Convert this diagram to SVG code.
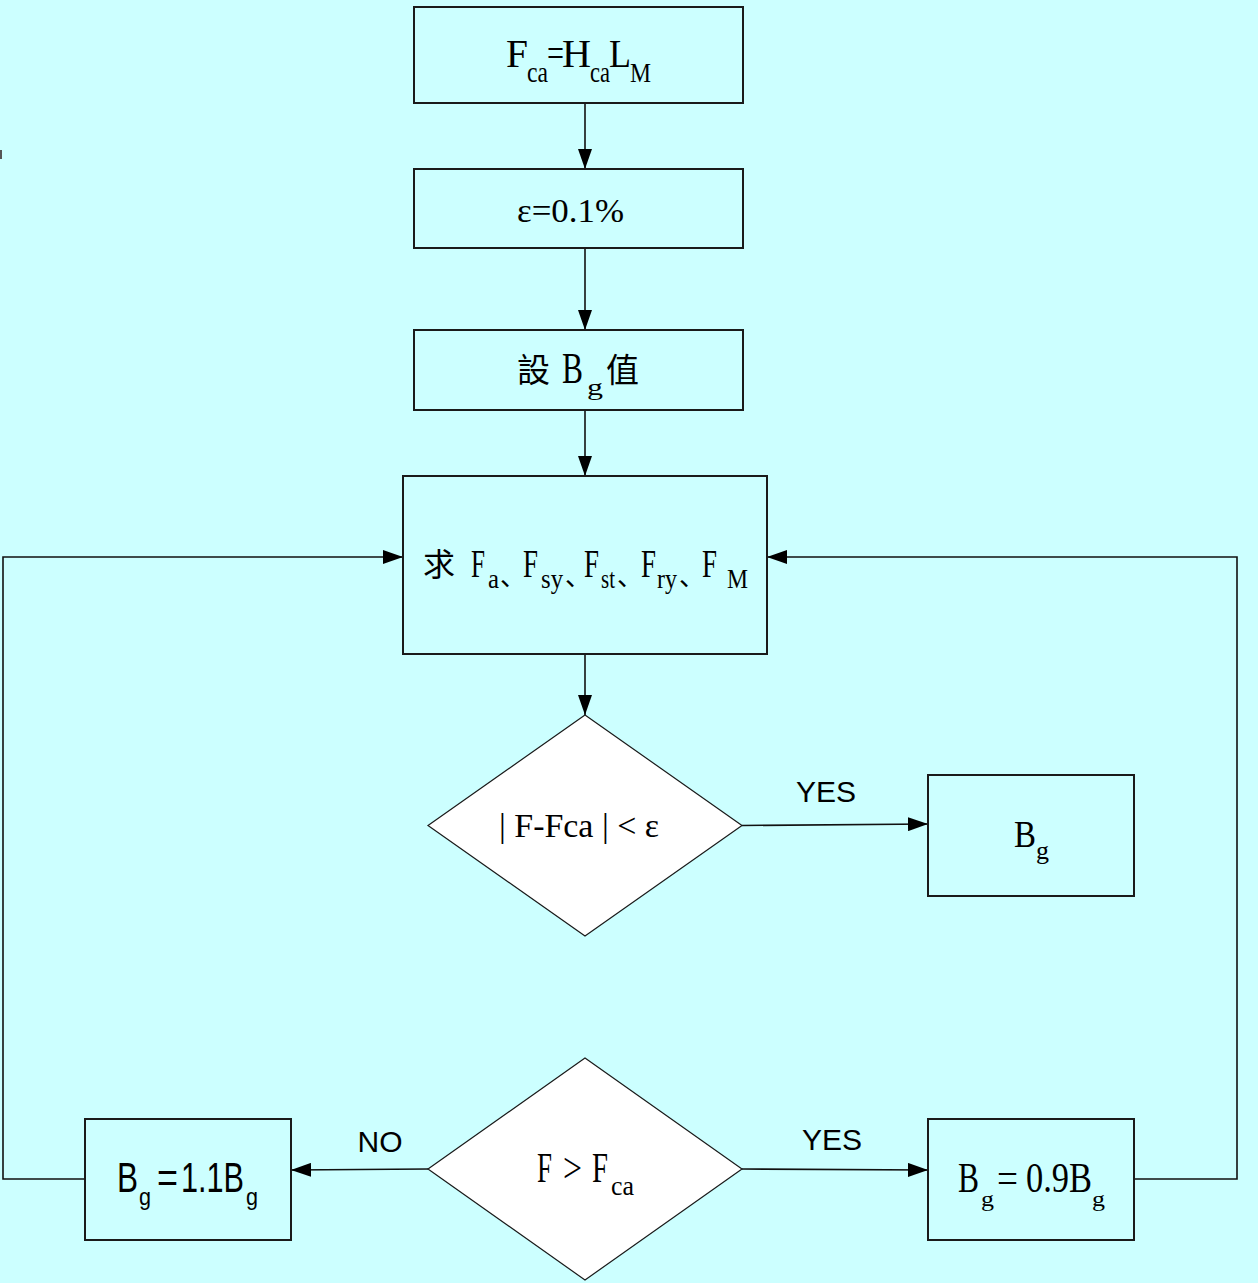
<svg xmlns="http://www.w3.org/2000/svg" width="1258" height="1283" viewBox="0 0 1258 1283">
  <defs>
    <style>
      .box { fill: #CCFFFF; stroke: #1a1a1a; stroke-width: 2; }
      .dia { fill: #FFFFFF; stroke: #1a1a1a; stroke-width: 1.2; }
      .wire { fill: none; stroke: #111; stroke-width: 1.6; }
      .tm { font-family: "Liberation Serif", "Times New Roman", "Noto Sans CJK TC", serif; fill: #000; }
      .ar { font-family: "Liberation Sans", Arial, sans-serif; fill: #000; }
      .cjk { font-family: "Noto Sans CJK TC", "Noto Sans CJK SC", sans-serif; fill: #000; }
      .pun { font-family: "Noto Sans CJK SC", "Noto Sans CJK JP", sans-serif; fill: #000; font-size: 26px; }
    </style>
    <marker id="head" markerUnits="userSpaceOnUse" markerWidth="20" markerHeight="14" refX="20" refY="7" orient="auto">
      <path d="M0,0 L20,7 L0,14 z" fill="#000"/>
    </marker>
  </defs>

  <rect x="0" y="0" width="1258" height="1283" fill="#CCFFFF"/>
  <rect x="0" y="150" width="2" height="9" fill="#555"/>

  <!-- connectors -->
  <g id="connectors">
    <line class="wire" x1="585" y1="103" x2="585" y2="169" marker-end="url(#head)"/>
    <line class="wire" x1="585" y1="248" x2="585" y2="330" marker-end="url(#head)"/>
    <line class="wire" x1="585" y1="410" x2="585" y2="476" marker-end="url(#head)"/>
    <line class="wire" x1="585" y1="654" x2="585" y2="715" marker-end="url(#head)"/>
    <line class="wire" x1="742" y1="825.5" x2="928" y2="824" marker-end="url(#head)"/>
    <line class="wire" x1="428" y1="1169" x2="291" y2="1170" marker-end="url(#head)"/>
    <line class="wire" x1="742" y1="1169" x2="928" y2="1170" marker-end="url(#head)"/>
    <polyline class="wire" points="1134,1179 1237,1179 1237,557 767,557" marker-end="url(#head)"/>
    <polyline class="wire" points="85,1179 3,1179 3,557 403,557" marker-end="url(#head)"/>
    <text class="ar" x="826" y="802" font-size="30" text-anchor="middle">YES</text>
    <text class="ar" x="832" y="1150" font-size="30" text-anchor="middle">YES</text>
    <text class="ar" x="380" y="1152" font-size="30" text-anchor="middle">NO</text>
  </g>

  <!-- F_ca = H_ca L_M -->
  <g id="n-fca">
    <rect class="box" x="414" y="7" width="329" height="96"/>
    <text class="tm" x="506" y="67" font-size="40" textLength="22" lengthAdjust="spacingAndGlyphs">F</text>
    <text class="tm" x="527" y="82" font-size="29" textLength="21" lengthAdjust="spacingAndGlyphs">ca</text>
    <text class="tm" x="547" y="67" font-size="40" textLength="17" lengthAdjust="spacingAndGlyphs">=</text>
    <text class="tm" x="562" y="67" font-size="40" textLength="29" lengthAdjust="spacingAndGlyphs">H</text>
    <text class="tm" x="590" y="82" font-size="29" textLength="20" lengthAdjust="spacingAndGlyphs">ca</text>
    <text class="tm" x="609" y="67" font-size="40" textLength="22" lengthAdjust="spacingAndGlyphs">L</text>
    <text class="tm" x="630" y="82" font-size="27" textLength="21" lengthAdjust="spacingAndGlyphs">M</text>
  </g>

  <!-- epsilon -->
  <g id="n-eps">
    <rect class="box" x="414" y="169" width="329" height="79"/>
    <text class="tm" x="517" y="222" font-size="33" textLength="107" lengthAdjust="spacingAndGlyphs">ε=0.1%</text>
  </g>

  <!-- initial B_g -->
  <g id="n-set">
    <rect class="box" x="414" y="330" width="329" height="80"/>
    <text class="cjk" x="517" y="382" font-size="33">設</text>
    <text class="tm" x="562" y="383" font-size="45" textLength="21" lengthAdjust="spacingAndGlyphs">B</text>
    <text class="tm" x="587" y="395" font-size="23" textLength="16" lengthAdjust="spacingAndGlyphs">g</text>
    <text class="cjk" x="606" y="382" font-size="33">值</text>
  </g>

  <!-- compute forces -->
  <g id="n-calc">
    <rect class="box" x="403" y="476" width="364" height="178"/>
    <text class="cjk" x="423" y="576" font-size="32">求</text>
    <text class="tm" x="471" y="577" font-size="40" textLength="14" lengthAdjust="spacingAndGlyphs">F</text>
    <text class="tm" x="488" y="588" font-size="28" textLength="11" lengthAdjust="spacingAndGlyphs">a</text>
    <text class="pun" x="500" y="586">、</text>
    <text class="tm" x="523" y="577" font-size="40" textLength="15" lengthAdjust="spacingAndGlyphs">F</text>
    <text class="tm" x="541" y="588" font-size="28" textLength="22" lengthAdjust="spacingAndGlyphs">sy</text>
    <text class="pun" x="565" y="586">、</text>
    <text class="tm" x="584" y="577" font-size="40" textLength="15" lengthAdjust="spacingAndGlyphs">F</text>
    <text class="tm" x="601" y="588" font-size="28" textLength="14" lengthAdjust="spacingAndGlyphs">st</text>
    <text class="pun" x="617" y="586">、</text>
    <text class="tm" x="641" y="577" font-size="40" textLength="15" lengthAdjust="spacingAndGlyphs">F</text>
    <text class="tm" x="657" y="588" font-size="28" textLength="20" lengthAdjust="spacingAndGlyphs">ry</text>
    <text class="pun" x="679" y="586">、</text>
    <text class="tm" x="702" y="577" font-size="40" textLength="15" lengthAdjust="spacingAndGlyphs">F</text>
    <text class="tm" x="727" y="588" font-size="27" textLength="21" lengthAdjust="spacingAndGlyphs">M</text>
  </g>

  <!-- convergence test -->
  <g id="n-test">
    <polygon class="dia" points="585,715 742,825.5 585,936 428,825.5"/>
    <text class="tm" x="499" y="837" font-size="34" textLength="160" lengthAdjust="spacingAndGlyphs">| F-Fca | &lt; ε</text>
  </g>

  <!-- result -->
  <g id="n-result">
    <rect class="box" x="928" y="775" width="206" height="121"/>
    <text class="tm" x="1014" y="847" font-size="38" textLength="22" lengthAdjust="spacingAndGlyphs">B</text>
    <text class="tm" x="1036" y="859" font-size="25" textLength="13" lengthAdjust="spacingAndGlyphs">g</text>
  </g>

  <!-- comparison -->
  <g id="n-cmp">
    <polygon class="dia" points="585,1058 742,1169 585,1280 428,1169"/>
    <text class="tm" x="537" y="1182" font-size="43" textLength="15" lengthAdjust="spacingAndGlyphs">F</text>
    <text class="tm" x="563" y="1182" font-size="43" textLength="19" lengthAdjust="spacingAndGlyphs">&gt;</text>
    <text class="tm" x="592" y="1182" font-size="43" textLength="16" lengthAdjust="spacingAndGlyphs">F</text>
    <text class="tm" x="611" y="1195" font-size="27" textLength="23" lengthAdjust="spacingAndGlyphs">ca</text>
  </g>

  <!-- increase B_g -->
  <g id="n-up">
    <rect class="box" x="85" y="1119" width="206" height="121"/>
    <text class="ar" x="117" y="1192" font-size="42" textLength="21" lengthAdjust="spacingAndGlyphs">B</text>
    <text class="ar" x="139" y="1205" font-size="23" textLength="12" lengthAdjust="spacingAndGlyphs">g</text>
    <text class="ar" x="157" y="1192" font-size="42" textLength="21" lengthAdjust="spacingAndGlyphs">=</text>
    <text class="ar" x="181" y="1192" font-size="42" textLength="63" lengthAdjust="spacingAndGlyphs">1.1B</text>
    <text class="ar" x="246" y="1205" font-size="23" textLength="12" lengthAdjust="spacingAndGlyphs">g</text>
  </g>

  <!-- decrease B_g -->
  <g id="n-down">
    <rect class="box" x="928" y="1119" width="206" height="121"/>
    <text class="tm" x="958" y="1192" font-size="43" textLength="21" lengthAdjust="spacingAndGlyphs">B</text>
    <text class="tm" x="981" y="1206" font-size="21" textLength="13" lengthAdjust="spacingAndGlyphs">g</text>
    <text class="tm" x="997" y="1192" font-size="43" textLength="21" lengthAdjust="spacingAndGlyphs">=</text>
    <text class="tm" x="1026" y="1192" font-size="43" textLength="66" lengthAdjust="spacingAndGlyphs">0.9B</text>
    <text class="tm" x="1092" y="1206" font-size="21" textLength="13" lengthAdjust="spacingAndGlyphs">g</text>
  </g>
</svg>
